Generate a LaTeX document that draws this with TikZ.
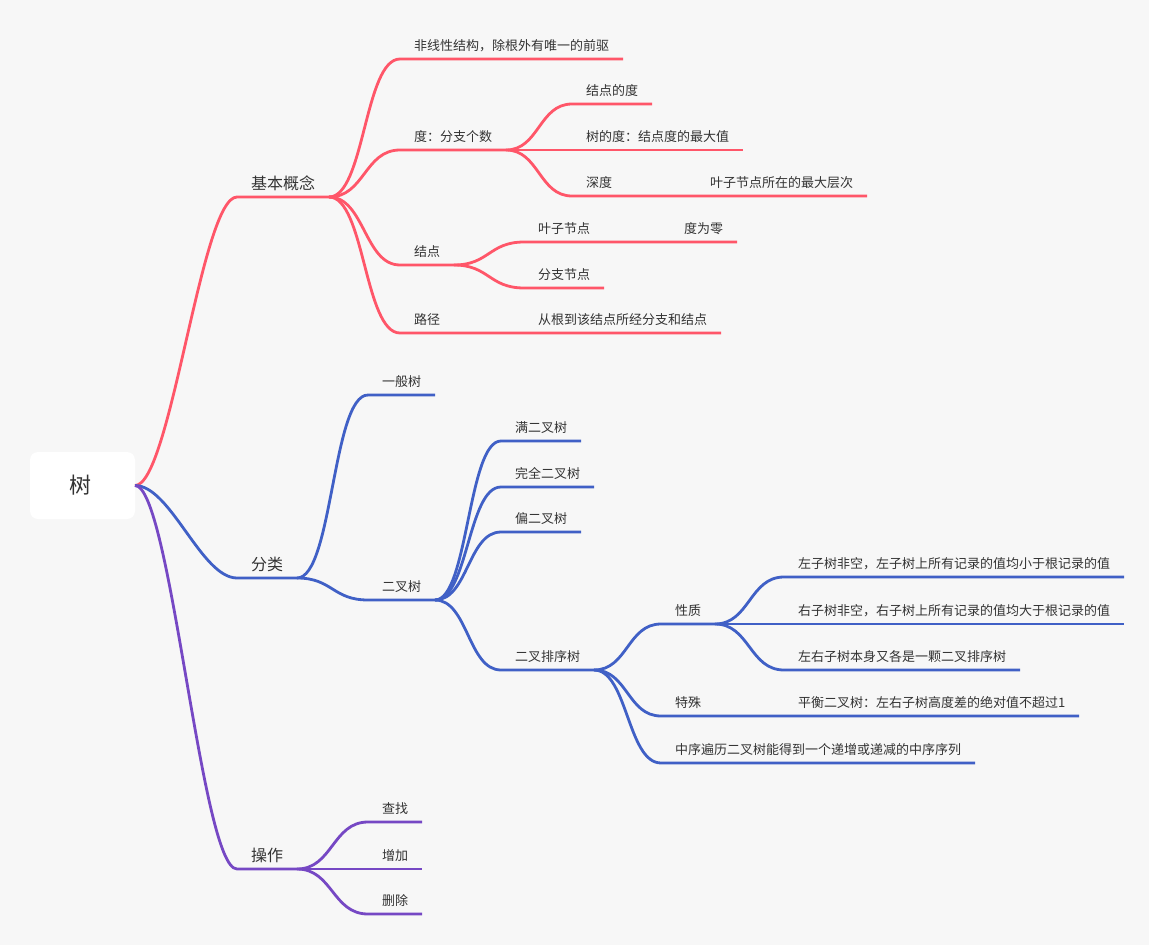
\documentclass[tikz,border=0pt]{standalone}
\usepackage{fontspec}
\newfontfamily\cjk{Noto Sans CJK SC}
\usetikzlibrary{calc}
\definecolor{bg}{HTML}{F7F7F7}
\definecolor{cred}{RGB}{255,86,105}
\definecolor{cblue}{RGB}{64,96,198}
\definecolor{cpurp}{RGB}{118,72,196}
\definecolor{txt}{HTML}{333333}
\tikzset{
  leaf/.style={font=\cjk\fontsize{13}{13}\selectfont, text=txt, anchor=south west,
    inner xsep=14pt, inner ysep=9pt, text height=10pt, text depth=0pt, outer sep=0pt},
  mainnode/.style={leaf, font=\cjk\fontsize{16}{16}\selectfont, inner ysep=8pt, text height=12pt},
  rootbox/.style={fill=white, rounded corners=8pt, minimum width=105pt, minimum height=67pt,
    font=\cjk\fontsize{22}{22}\selectfont, text=txt, anchor=north west, inner sep=0pt, outer sep=0pt},
  br/.style={draw=#1, line width=2.8pt},
  sc/.style={to path={let \p1=(\tikztostart), \p2=(\tikztotarget) in
    .. controls ({\x1+#1*(\x2-\x1)},\y1) and ({\x2-#1*(\x2-\x1)},\y2) .. (\tikztotarget)}},
  sc/.default=0.5
}
\begin{document}
\begin{tikzpicture}[x=1pt,y=-1pt]
\fill[bg] (0,0) rectangle (1149,945);
\useasboundingbox (0,0) rectangle (1149,945);
\node[rootbox] (root) at (30,452) {\hspace*{-5pt}树};
% red
\node[mainnode] (jb) at (237,197) {基本概念};
\node[leaf] (r1) at (400,59) {非线性结构，除根外有唯一的前驱};
\node[leaf] (r2) at (400,150) {度：分支个数};
\node[leaf] (r21) at (572,104) {结点的度};
\node[leaf] (r22) at (572,150) {树的度：结点度的最大值};
\node[leaf] (r23) at (572,196) {深度};
\node[leaf] (r231) at (696,196) {叶子节点所在的最大层次};
\node[leaf] (r3) at (400,265) {结点};
\node[leaf] (r31) at (524,242) {叶子节点};
\node[leaf] (r311) at (670,242) {度为零};
\node[leaf] (r32) at (524,288) {分支节点};
\node[leaf] (r4) at (400,333) {路径};
\node[leaf] (r41) at (524,333) {从根到该结点所经分支和结点};
% blue
\node[mainnode] (fl) at (237,578) {分类};
\node[leaf] (b1) at (368,395) {一般树};
\node[leaf] (b2) at (368,600) {二叉树};
\node[leaf] (b21) at (501,441) {满二叉树};
\node[leaf] (b22) at (501,487) {完全二叉树};
\node[leaf] (b23) at (501,532) {偏二叉树};
\node[leaf] (b24) at (501,670) {二叉排序树};
\node[leaf] (b241) at (661,624) {性质};
\node[leaf] (b2411) at (784,577) {左子树非空，左子树上所有记录的值均小于根记录的值};
\node[leaf] (b2412) at (784,624) {右子树非空，右子树上所有记录的值均大于根记录的值};
\node[leaf] (b2413) at (784,670) {左右子树本身又各是一颗二叉排序树};
\node[leaf] (b242) at (661,716) {特殊};
\node[leaf] (b2421) at (784,716) {平衡二叉树：左右子树高度差的绝对值不超过1};
\node[leaf] (b243) at (661,763) {中序遍历二叉树能得到一个递增或递减的中序序列};
% purple
\node[mainnode] (cz) at (237,869) {操作};
\node[leaf] (p1) at (368,822) {查找};
\node[leaf] (p2) at (368,869) {增加};
\node[leaf] (p3) at (368,914) {删除};
% red edges
\draw[br=cred] (root.east) to[sc=0.35] (jb.south west) -- (jb.south east);
\foreach \c in {r1,r2,r3}
  \draw[br=cred] (jb.south east) to[sc] (\c.south west) -- (\c.south east);
\draw[br=cred] (jb.south east) to[sc] (r4.south west) -- (r4.south east) -- (r41.south west) -- (r41.south east);
\foreach \c in {r21,r22}
  \draw[br=cred] (r2.south east) to[sc] (\c.south west) -- (\c.south east);
\draw[br=cred] (r2.south east) to[sc] (r23.south west) -- (r23.south east) -- (r231.south west) -- (r231.south east);
\draw[br=cred] (r3.south east) to[sc] (r31.south west) -- (r31.south east) -- (r311.south west) -- (r311.south east);
\draw[br=cred] (r3.south east) to[sc] (r32.south west) -- (r32.south east);
% blue edges
\draw[br=cblue] (root.east) to[sc=0.35] (fl.south west) -- (fl.south east);
\foreach \c in {b1,b2}
  \draw[br=cblue] (fl.south east) to[sc] (\c.south west) -- (\c.south east);
\foreach \c in {b21,b22,b23,b24}
  \draw[br=cblue] (b2.south east) to[sc] (\c.south west) -- (\c.south east);
\foreach \c in {b241,b243}
  \draw[br=cblue] (b24.south east) to[sc] (\c.south west) -- (\c.south east);
\draw[br=cblue] (b24.south east) to[sc] (b242.south west) -- (b242.south east) -- (b2421.south west) -- (b2421.south east);
\foreach \c in {b2411,b2412,b2413}
  \draw[br=cblue] (b241.south east) to[sc] (\c.south west) -- (\c.south east);
% purple edges
\draw[br=cpurp] (root.east) to[sc=0.35] (cz.south west) -- (cz.south east);
\foreach \c in {p1,p2,p3}
  \draw[br=cpurp] (cz.south east) to[sc] (\c.south west) -- (\c.south east);
\end{tikzpicture}
\end{document}
